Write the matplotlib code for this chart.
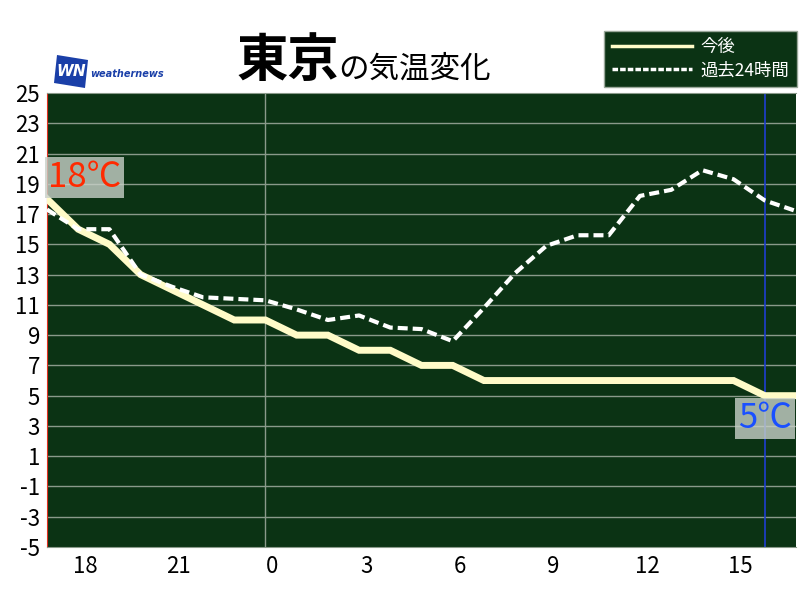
import matplotlib
matplotlib.use("Agg")
import matplotlib.pyplot as plt
from matplotlib.lines import Line2D
from matplotlib.patches import Polygon
import matplotlib.transforms as mtransforms
import numpy as np

plt.rcParams['font.family'] = ['Noto Sans CJK JP', 'DejaVu Sans']

# ---- data ----
hours = [17, 18, 19, 20, 21, 22, 23, 0, 1, 2, 3, 4, 5, 6, 7, 8, 9, 10, 11, 12, 13, 14, 15, 16, 17]
future = [18, 16, 15, 13, 12, 11, 10, 10, 9, 9, 8, 8, 7, 7,
          6, 6, 6, 6, 6, 6, 6, 6, 6, 5, 5]
past = [17.3, 16, 16, 13.0, 12.2, 11.5, 11.4, 11.3, 10.7, 10.0, 10.3, 9.5, 9.4, 8.6,
        10.8, 13.1, 14.9, 15.6, 15.6, 18.2, 18.6, 19.9, 19.3, 17.9, 17.2]
y_ticks = list(range(-5, 26, 2))
label_start = "18℃"
label_now = "5℃"
now_index = 23
title_main = "東京"
title_sub = "の気温変化"
legend_labels = ["今後", "過去24時間"]

bg = '#0b3314'
cream = '#fffbc8'
gridc = '#8a9a8a'

fig = plt.figure(figsize=(8, 6), dpi=100)
ax = fig.add_axes([47/800, 1-547/600, (796-47)/800, (547-93)/600])
ax.set_facecolor(bg)

x = np.arange(len(hours))
ax.set_xlim(0, len(hours)-1)
ax.set_ylim(-5, 25)

for yv in y_ticks[1:-1]:
    ax.axhline(yv, color=gridc, lw=1, zorder=1)
ax.axvline(hours.index(0), color=gridc, lw=1, zorder=1)
ax.axvline(now_index, color='#1f3fd0', lw=1.2, zorder=1.5)

ax.plot(x, future, color=cream, lw=5, solid_joinstyle='miter', zorder=3)
ax.plot(x, past, color='white', lw=3, dashes=(2.4, 1.2), zorder=4)

ax.set_yticks(y_ticks)
ax.set_yticklabels([str(v) for v in y_ticks], fontsize=16, color='black')
xt = [i for i, h in enumerate(hours[:-1]) if h % 3 == 0]
ax.set_xticks(xt)
ax.set_xticklabels([str(hours[i]) for i in xt], fontsize=16, color='black')
ax.tick_params(axis='both', length=0)
ax.tick_params(axis='y', pad=5)
ax.tick_params(axis='x', pad=6)
off = mtransforms.ScaledTranslation(5/72, 0, fig.dpi_scale_trans)
for lab in ax.get_xticklabels():
    lab.set_transform(lab.get_transform() + off)

for s in ['top', 'bottom', 'right']:
    ax.spines[s].set_color(gridc)
ax.spines['right'].set_visible(False)
ax.spines['left'].set_color('#e03020')

# value labels
ax.annotate(label_start, xy=(0, future[0]), xytext=(0.5, 3), textcoords='offset points',
            ha='left', va='bottom', fontsize=25, color='#ff2a00', zorder=6,
            bbox=dict(boxstyle='square,pad=0.08', fc='#c8d0c8', ec='none', alpha=0.8))
ax.annotate(label_now, xy=(now_index, future[now_index]), xytext=(0, -4), textcoords='offset points',
            ha='center', va='top', fontsize=25, color='#1a50ff', zorder=6,
            bbox=dict(boxstyle='square,pad=0.08', fc='#c8d0c8', ec='none', alpha=0.8))

# title
fig.text(236/800, 1-76/600, title_main, fontsize=37, fontweight='bold', ha='left', va='baseline')
fig.text(338/800, 1-78/600, title_sub, fontsize=22, ha='left', va='baseline')

# logo
logo = Polygon([[57/800, 1-55/600], [88/800, 1-60/600], [85/800, 1-88/600], [54/800, 1-83/600]],
               closed=True, transform=fig.transFigure, fc='#1a3fa8', ec='none')
fig.add_artist(logo)
fig.text(71/800, 1-72/600, "WN", fontsize=11, fontweight='bold', style='italic', color='white',
         ha='center', va='center', family='DejaVu Sans')
fig.text(90/800, 1-74/600, "weathernews", fontsize=7, fontweight='bold', style='italic',
         color='#1a3fa8', ha='left', va='center', family='DejaVu Sans')

# legend
handles = [Line2D([], [], color=cream, lw=2.5),
           Line2D([], [], color='white', lw=2.5, dashes=(1.6, 0.6))]
leg = ax.legend(handles, legend_labels, loc='upper right',
                bbox_to_anchor=(797/800, 1-30.5/600), bbox_transform=fig.transFigure,
                fontsize=12.5, frameon=True, fancybox=False, facecolor=bg, edgecolor='#9aa89a',
                framealpha=1, handlelength=4.6, handletextpad=0.5, labelspacing=0.3,
                borderpad=0.45, borderaxespad=0)
for t in leg.get_texts():
    t.set_color('white')

fig.savefig('out.png', dpi=100)
